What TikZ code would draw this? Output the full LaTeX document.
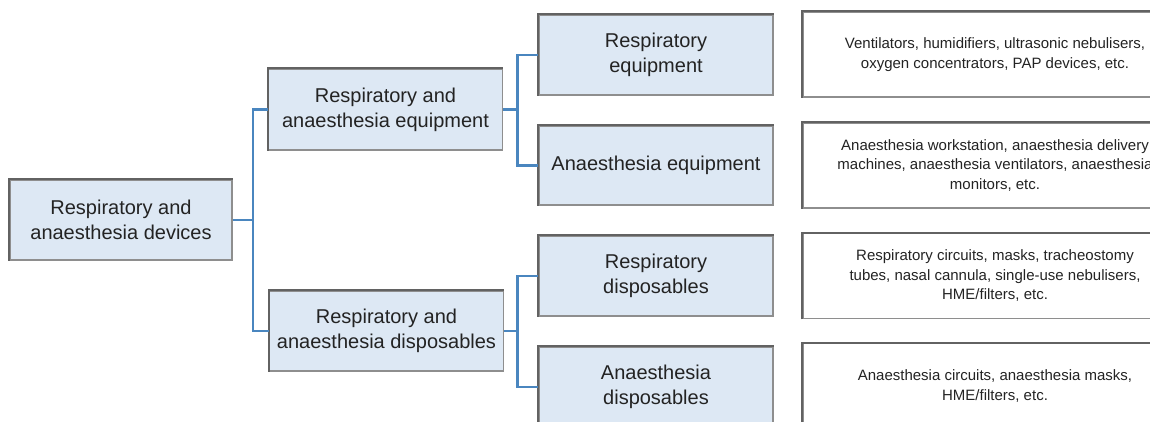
\documentclass[tikz,border=0pt]{standalone}
\usepackage{fontspec}
\setmainfont{Liberation Sans}
\definecolor{boxfill}{HTML}{DDE8F4}
\definecolor{boxedge}{HTML}{8E8E8E}
\definecolor{boxshade}{HTML}{626262}
\definecolor{linkblue}{HTML}{4A86BF}
\definecolor{ink}{HTML}{232323}
\begin{document}
\begin{tikzpicture}[x=1pt,y=-1pt,
  catbox/.style={draw=boxedge, line width=1.6pt, fill=boxfill, text=ink,
    align=center, inner sep=0pt, font=\fontsize{20}{25}\selectfont,
    minimum width=234pt, minimum height=80pt},
  notebox/.style={draw=boxedge, line width=1.6pt, fill=white, text=ink,
    align=center, inner sep=0pt, font=\fontsize{15}{19.5}\selectfont,
    minimum width=384pt, minimum height=85pt},
  link/.style={draw=linkblue, line width=2.3pt}]
\useasboundingbox (0,0) rectangle (1150,422);
\clip (0,0) rectangle (1150,422);

% root and second level
\node[catbox, minimum width=222pt] (root) at (121,220) {Respiratory and\\anaesthesia devices};
\node[catbox, minimum height=81pt] (equip) at (385.5,109.5) {Respiratory and\\anaesthesia equipment};
\node[catbox] (disp) at (386.5,331) {Respiratory and\\anaesthesia disposables};

% third level
\node[catbox] (reqp) at (656,55) {Respiratory\\equipment};
\node[catbox, minimum height=79pt] (aeqp) at (656,165.5) {Anaesthesia equipment};
\node[catbox] (rdsp) at (656,276) {Respiratory\\disposables};
\node[catbox] (adsp) at (656,387) {Anaesthesia\\disposables};

% descriptions
\node[notebox] (nreqp) at (995,54.5) {Ventilators, humidifiers, ultrasonic nebulisers,\\oxygen concentrators, PAP devices, etc.};
\node[notebox] (naeqp) at (995,165.5) {Anaesthesia workstation, anaesthesia delivery\\machines, anaesthesia ventilators, anaesthesia\\monitors, etc.};
\node[notebox] (nrdsp) at (995,276) {Respiratory circuits, masks, tracheostomy\\tubes, nasal cannula, single-use nebulisers,\\HME/filters, etc.};
\node[notebox] (nadsp) at (995,386) {Anaesthesia circuits, anaesthesia masks,\\HME/filters, etc.};

% darker top and left edges
\foreach \n in {root,equip,disp,reqp,aeqp,rdsp,adsp,nreqp,naeqp,nrdsp,nadsp}
  \draw[boxshade, line width=1.6pt] (\n.south west) -- (\n.north west) -- (\n.north east);

% tree connectors
\coordinate (busA) at (253,0);
\coordinate (busB) at (517.5,0);
\draw[link] (root.east) -- (root.east -| busA) |- (equip.west);
\draw[link] (root.east) -- (root.east -| busA) |- (disp.west);
\draw[link] (equip.east) -- (equip.east -| busB) |- (reqp.west);
\draw[link] (equip.east) -- (equip.east -| busB) |- (aeqp.west);
\draw[link] (disp.east) -- (disp.east -| busB) |- (rdsp.west);
\draw[link] (disp.east) -- (disp.east -| busB) |- (adsp.west);
\end{tikzpicture}
\end{document}
